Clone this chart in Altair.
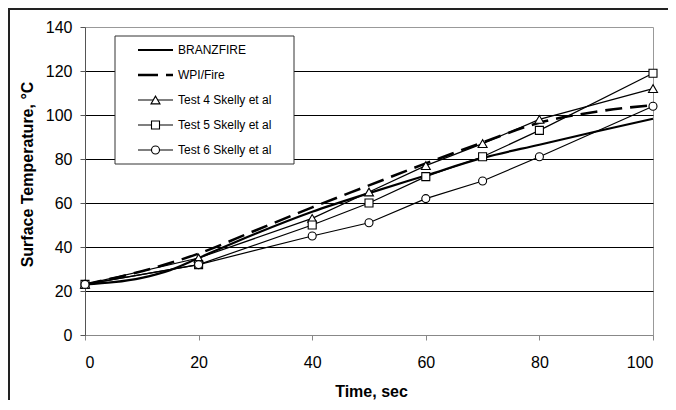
import altair as alt
import pandas as pd

# ---- data ----
time_obs = [0, 20, 40, 50, 60, 70, 80, 100]
test4 = [23, 35, 53, 65, 77, 87, 98, 112]
test5 = [23, 32, 50, 60, 72, 81, 93, 119]
test6 = [23, 32, 45, 51, 62, 70, 81, 104]

time_branz = [0, 5, 10, 15, 20, 30, 40, 50, 60, 70, 80, 90, 100]
branzfire = [23, 24, 26, 29.5, 35, 46, 56, 64.5, 72.5, 80.5, 86.5, 92.5, 98.3]

time_wpi = [0, 10, 20, 30, 40, 50, 60, 70, 80, 90, 100]
wpifire = [23, 29, 37, 47.5, 58, 68, 78, 87.5, 96.5, 101.5, 104.5]

series_names = ["BRANZFIRE", "WPI/Fire", "Test 4 Skelly et al",
                "Test 5 Skelly et al", "Test 6 Skelly et al"]
x_ticks = [0, 20, 40, 60, 80, 100]
y_ticks = [0, 20, 40, 60, 80, 100, 120, 140]

FONT = "Liberation Sans"
W, H = 568, 308

df_b = pd.DataFrame({"t": time_branz, "v": branzfire})
df_w = pd.DataFrame({"t": time_wpi, "v": wpifire})
df_4 = pd.DataFrame({"t": time_obs, "v": test4})
df_5 = pd.DataFrame({"t": time_obs, "v": test5})
df_6 = pd.DataFrame({"t": time_obs, "v": test6})
one = pd.DataFrame({"a": [0]})

x_axis = alt.Axis(values=x_ticks, title="Time, sec", grid=False,
                  labelFont=FONT, labelFontSize=16, labelColor="black",
                  tickSize=5, tickColor="#888", domainColor="#888",
                  labelPadding=14, titleFont=FONT, titleFontSize=16,
                  titleFontWeight="bold", titleColor="black",
                  titleX=286, titleY=61, titleBaseline="alphabetic")
y_axis = alt.Axis(values=y_ticks, title="Surface Temperature, °C",
                  grid=True, gridColor="black", gridWidth=1,
                  gridOpacity={"condition": {"test": "datum.value == 0 || datum.value == 140", "value": 0}, "value": 1},
                  labelFont=FONT, labelFontSize=16, labelColor="black",
                  tickSize=5, tickColor="#555", domainColor="#555",
                  labelPadding=8, titleFont=FONT, titleFontSize=16,
                  titleFontWeight="bold", titleColor="black",
                  titleX=-53, titleY=147, titleBaseline="alphabetic",
                  titleAngle=270)

X = alt.X("t:Q", scale=alt.Scale(domain=[0, 100], nice=False, zero=False), axis=x_axis)
Y = alt.Y("v:Q", scale=alt.Scale(domain=[0, 140], nice=False), axis=y_axis)

DASH = [17, 8]

branz_line = alt.Chart(df_b).mark_line(color="black", strokeWidth=2.2,
                                       interpolate="monotone").encode(x=X, y=Y)
wpi_line = alt.Chart(df_w).mark_line(color="black", strokeWidth=2.6, strokeDash=DASH,
                                     interpolate="monotone").encode(x=X, y=Y)

def test_line(df):
    return alt.Chart(df).mark_line(color="black", strokeWidth=1.2).encode(x=X, y=Y)

def test_pts(df, shape):
    size = 81 if shape == "triangle-up" else 64
    return alt.Chart(df).mark_point(shape=shape, filled=True, fill="white",
                                    stroke="black", strokeWidth=1.1, size=size,
                                    opacity=1).encode(x=X, y=Y)

# ---- legend (drawn as a box inside the plot) ----
bx0, bx1, by0, by1 = 30, 209, 9, 137
lx0, lx1, tx = 53, 88, 93
row_y = [23 + 25 * i for i in range(len(series_names))]
shapes = [None, None, "triangle-up", "square", "circle"]

legend_layers = [
    alt.Chart(one).mark_rect(fill="white", stroke="#333", strokeWidth=1).encode(
        x=alt.value(bx0), x2=alt.value(bx1), y=alt.value(by0), y2=alt.value(by1))
]
for i, name in enumerate(series_names):
    yy = row_y[i]
    if i == 0:
        rule = alt.Chart(one).mark_rule(color="black", strokeWidth=2.2)
    elif i == 1:
        rule = alt.Chart(one).mark_rule(color="black", strokeWidth=2.6, strokeDash=[20, 8])
    else:
        rule = alt.Chart(one).mark_rule(color="black", strokeWidth=1.2)
    legend_layers.append(rule.encode(x=alt.value(lx0), x2=alt.value(lx1), y=alt.value(yy)))
    if shapes[i]:
        size = 81 if shapes[i] == "triangle-up" else 64
        legend_layers.append(
            alt.Chart(one).mark_point(shape=shapes[i], filled=True, fill="white",
                                      stroke="black", strokeWidth=1.1, size=size,
                                      opacity=1).encode(
                x=alt.value((lx0 + lx1) / 2), y=alt.value(yy)))
    legend_layers.append(
        alt.Chart(one).mark_text(text=name, font=FONT, fontSize=12, color="black",
                                 align="left", baseline="middle").encode(
            x=alt.value(tx), y=alt.value(yy)))

# ---- outer frame lines (top and left edges) ----
frame = [
    alt.Chart(one).mark_rule(color="#222", strokeWidth=2).encode(
        x=alt.value(-77), x2=alt.value(W + 15), y=alt.value(-18)),
    alt.Chart(one).mark_rule(color="#222", strokeWidth=2).encode(
        x=alt.value(-76), y=alt.value(-19), y2=alt.value(H + 65)),
]

chart = alt.layer(
    branz_line, wpi_line,
    test_line(df_4), test_line(df_5), test_line(df_6),
    test_pts(df_4, "triangle-up"), test_pts(df_5, "square"), test_pts(df_6, "circle"),
    *legend_layers, *frame
).properties(
    width=W, height=H,
    autosize=alt.AutoSizeParams(type="none"),
    padding={"left": 77, "top": 19, "right": 15, "bottom": 65},
    background="white",
).configure_view(stroke="#999", strokeWidth=1)

chart.save("out.html", embed_options={"renderer": "svg", "actions": False})
